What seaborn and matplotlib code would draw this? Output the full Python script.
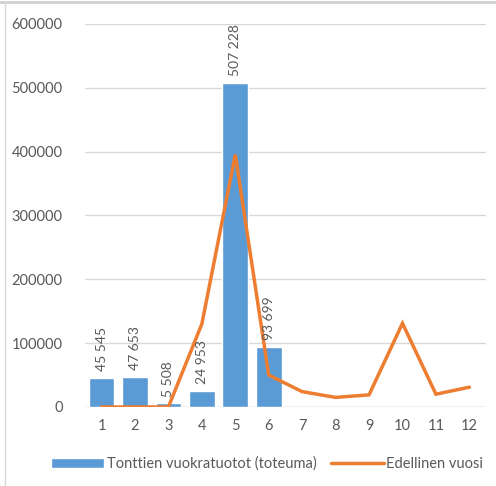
import matplotlib
matplotlib.use("Agg")
import matplotlib.pyplot as plt
import seaborn as sns
import pandas as pd
from matplotlib.lines import Line2D

months = [str(m) for m in range(1, 13)]
toteuma = [45545, 47653, 5508, 24953, 507228, 93699]
edellinen = [0, 0, 0, 130000, 395000, 50000, 24000, 15000, 19000, 131000, 20000, 31000]

BAR = "#5B9BD5"
LINE = "#ED7D31"
TXT = "#595959"

sns.set_theme(style="white")
plt.rcParams["font.family"] = ["Lato", "DejaVu Sans"]

df_bar = pd.DataFrame({"kk": months[:len(toteuma)], "arvo": toteuma})

fig = plt.figure(figsize=(4.96, 4.86), dpi=100)
ax = fig.add_axes([0.171, 0.1626, 0.809, 0.7885])

sns.barplot(data=df_bar, x="kk", y="arvo", order=months, color=BAR,
            saturation=1, width=0.77, ax=ax, label="Tonttien vuokratuotot (toteuma)")
ax.plot(range(len(edellinen)), edellinen, color=LINE, lw=2.5,
        solid_joinstyle="miter", label="Edellinen vuosi")

for i, v in enumerate(toteuma):
    ax.annotate(f"{v:,}".replace(",", " "), (i, v), xytext=(0, 5),
                textcoords="offset points", rotation=90, ha="center", va="bottom",
                fontsize=10, color=TXT)

ax.set_xlim(-0.5, 11.5)
ax.set_ylim(0, 600000)
ax.set_yticks(range(0, 600001, 100000))
ax.set_yticklabels([str(t) for t in range(0, 600001, 100000)])
ax.yaxis.grid(True, color="#D9D9D9", lw=1)
ax.set_axisbelow(True)
for s in ax.spines.values():
    s.set_visible(False)
ax.axhline(0, color="#D9D9D9", lw=1, zorder=0.5)
ax.tick_params(axis="both", length=0, labelsize=10.5, colors=TXT)
ax.tick_params(axis="y", pad=16)
ax.tick_params(axis="x", pad=9)
ax.set_xlabel("")
ax.set_ylabel("")

handles, labels = ax.get_legend_handles_labels()
order = [labels.index("Tonttien vuokratuotot (toteuma)"), labels.index("Edellinen vuosi")]
ax.legend([handles[i] for i in order], [labels[i] for i in order],
          loc="upper center", bbox_to_anchor=(0.455, -0.095), ncol=2, frameon=False,
          fontsize=10.5, labelcolor=TXT, handlelength=3.6, handletextpad=0.2,
          columnspacing=1.0)

fig.add_artist(Line2D([0, 1], [0.995, 0.995], color="#D0D0D0", lw=2, transform=fig.transFigure))
fig.add_artist(Line2D([0.011, 0.011], [0, 0.995], color="#D9D9D9", lw=1, transform=fig.transFigure))

fig.savefig("out.png", dpi=100)
